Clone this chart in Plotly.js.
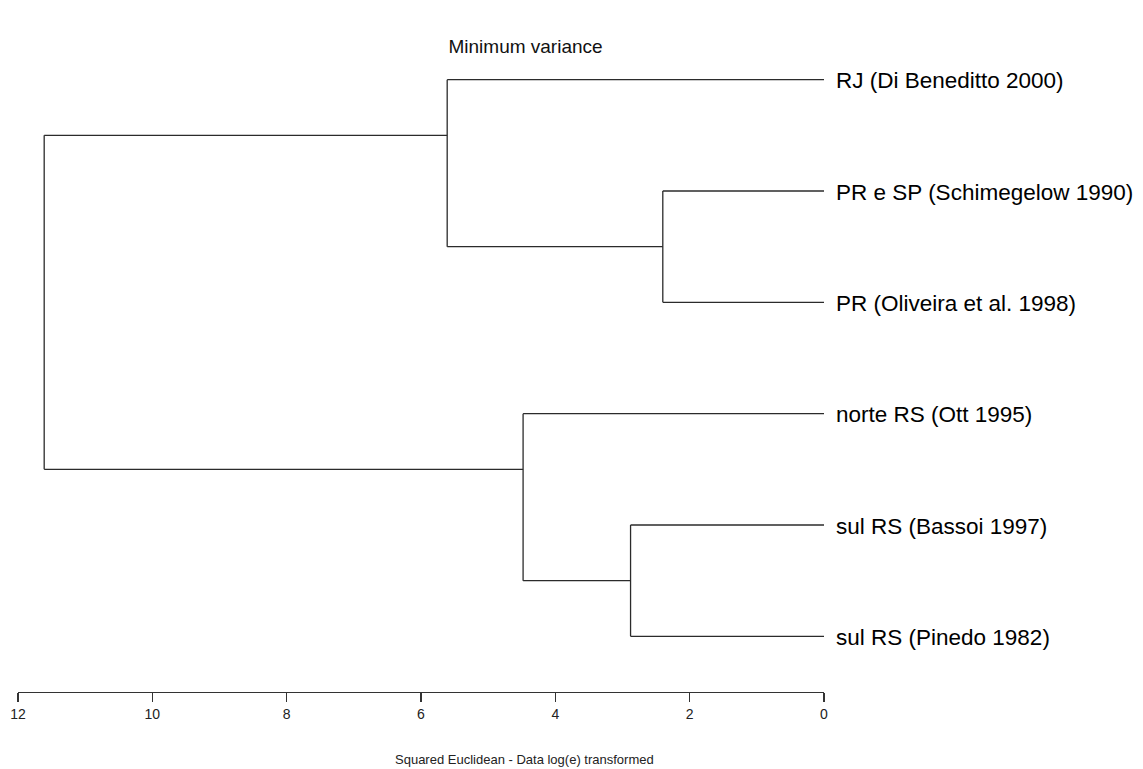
<!DOCTYPE html>
<html>
<head>
<meta charset="utf-8">
<script src="https://cdn.plot.ly/plotly-3.0.1.min.js"></script>
<style>
  html, body { margin: 0; padding: 0; background: #ffffff; }
  #chart { width: 1143px; height: 769px; }
</style>
</head>
<body>
<div id="chart"></div>
<script>
// Leaves, top to bottom
const leafLabels = [
  "RJ (Di Beneditto 2000)",
  "PR e SP (Schimegelow 1990)",
  "PR (Oliveira et al. 1998)",
  "norte RS (Ott 1995)",
  "sul RS (Bassoi 1997)",
  "sul RS (Pinedo 1982)"
];

// Agglomeration steps: child ids (0-5 = leaves, 6+ = earlier merge) and fusion level
const mergeFirst  = [1, 0, 4, 3, 7];
const mergeSecond = [2, 6, 5, 8, 9];
const mergeHeight = [2.40, 5.61, 2.88, 4.48, 11.61];

// Axis ticks
const tickValues = [12, 10, 8, 6, 4, 2, 0];

const nLeaves = leafLabels.length;

// Vertical position and first leaf of every node
const nodeY = [], nodeFirstLeaf = [], nodeHeight = [];
for (let i = 0; i < nLeaves; i++) {
  nodeY[i] = i; nodeFirstLeaf[i] = i; nodeHeight[i] = 0;
}
mergeFirst.forEach((a, k) => {
  const b = mergeSecond[k];
  const id = nLeaves + k;
  nodeFirstLeaf[id] = Math.min(nodeFirstLeaf[a], nodeFirstLeaf[b]);
  nodeY[id] = (nodeFirstLeaf[a] + nodeFirstLeaf[b]) / 2;
  nodeHeight[id] = mergeHeight[k];
});

// Bracket segments: child arms plus the joining vertical
const xs = [], ys = [];
mergeFirst.forEach((a, k) => {
  const b = mergeSecond[k];
  const h = mergeHeight[k];
  [a, b].forEach(c => {
    xs.push(nodeHeight[c], h, null);
    ys.push(nodeY[c], nodeY[c], null);
  });
  xs.push(h, h, null);
  ys.push(nodeY[a], nodeY[b], null);
});

const font = "Arial, 'Liberation Sans', sans-serif";

const traces = [{
  type: "scatter",
  mode: "lines",
  x: xs,
  y: ys,
  line: { color: "#2b2b2b", width: 1.3 },
  hoverinfo: "skip",
  showlegend: false,
  cliponaxis: false
}];

const annotations = leafLabels.map((t, i) => ({
  text: t,
  x: 0, y: i,
  xref: "x", yref: "y",
  xanchor: "left", yanchor: "middle",
  xshift: 10, yshift: -1,
  showarrow: false,
  font: { family: font, size: 22.5, color: "#000000" }
}));

annotations.push({
  text: "Squared Euclidean - Data log(e) transformed",
  xref: "paper", yref: "paper",
  x: 0.629, y: -0.101,
  xanchor: "center", yanchor: "middle",
  showarrow: false,
  font: { family: font, size: 13, color: "#222222" }
});

const layout = {
  width: 1143,
  height: 769,
  paper_bgcolor: "#ffffff",
  plot_bgcolor: "#ffffff",
  margin: { l: 18, r: 319, t: 24.4, b: 77.3, pad: 0 },
  title: {
    text: "Minimum variance",
    xref: "container", yref: "container",
    x: 0.4598, y: 1 - 46 / 769,
    xanchor: "center", yanchor: "middle",
    font: { family: font, size: 19, color: "#111111" }
  },
  xaxis: {
    range: [12, 0],
    tickvals: tickValues,
    ticktext: tickValues.map(String),
    ticks: "outside",
    ticklen: 9,
    tickwidth: 1.2,
    tickcolor: "#333333",
    showline: true,
    linecolor: "#333333",
    linewidth: 1.3,
    showgrid: false,
    zeroline: false,
    tickfont: { family: font, size: 14, color: "#222222" },
    fixedrange: true
  },
  yaxis: {
    range: [nLeaves - 0.5, -0.5],
    visible: false,
    showgrid: false,
    zeroline: false,
    fixedrange: true
  },
  annotations: annotations,
  showlegend: false
};

Plotly.newPlot("chart", traces, layout, { staticPlot: true, displayModeBar: false });
</script>
</body>
</html>
